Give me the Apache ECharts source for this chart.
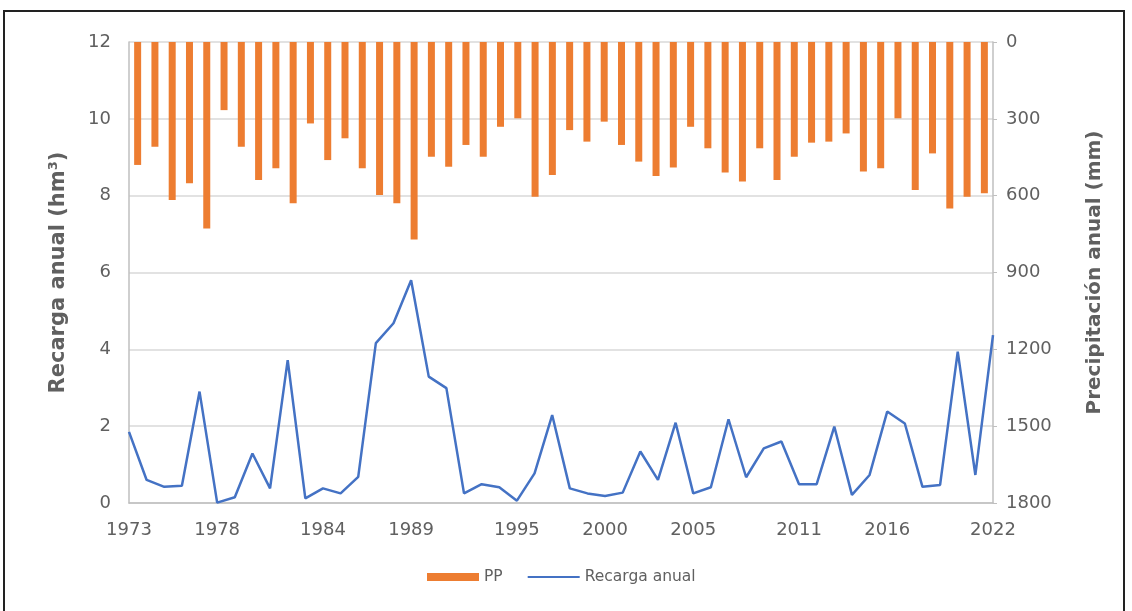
<!DOCTYPE html>
<html>
<head>
<meta charset="utf-8">
<script src="https://cdn.jsdelivr.net/npm/echarts@6/dist/echarts.min.js"></script>
<style>
html,body{margin:0;padding:0;background:#fff;}
#chart{position:absolute;left:0;top:0;width:1132px;height:611px;}
#frame{position:absolute;left:3px;top:10px;width:1122px;height:640px;border:2px solid #222;box-sizing:border-box;pointer-events:none;}
</style>
</head>
<body>
<div id="chart"></div>
<div id="frame"></div>
<script>
const years = [];
for (let y = 1973; y <= 2022; y++) years.push(String(y));
const shownYears = ['1973','1978','1984','1989','1995','2000','2005','2011','2016','2022'];
const ppValues = [480,409,617,552,728,266,409,539,493,630,318,461,376,493,597,630,771,448,487,402,448,331,298,604,519,344,389,311,402,467,523,490,331,415,510,545,415,539,448,393,389,357,506,493,298,578,435,650,604,591];
const recargaValues = [1.85,0.60,0.42,0.45,2.90,0.01,0.15,1.29,0.38,3.72,0.12,0.38,0.25,0.68,4.16,4.68,5.80,3.29,2.99,0.25,0.49,0.41,0.06,0.77,2.29,0.38,0.25,0.18,0.27,1.34,0.60,2.09,0.25,0.41,2.18,0.67,1.42,1.60,0.49,0.49,1.99,0.21,0.73,2.38,2.07,0.42,0.47,3.94,0.73,4.37];
const leftTicks = {min:0, max:12, interval:2};
const rightTicks = {min:0, max:1800, interval:300};

const txt = '#606060';
const font = 'DejaVu Sans, Verdana, sans-serif';
const chart = echarts.init(document.getElementById('chart'));
chart.setOption({
  animation:false,
  textStyle:{fontFamily:font},
  grid:{left:129, right:139, top:42, bottom:108},
  legend:{
    bottom:21, left:422, itemWidth:52, itemHeight:8, itemGap:24,
    textStyle:{color:txt, fontSize:15.5, fontFamily:font},
    data:[{name:'PP', icon:'rect'}, {name:'Recarga anual', itemStyle:{opacity:0}}]
  },
  xAxis:[
    {type:'category', data:years, boundaryGap:false, position:'bottom',
     axisLine:{show:true, lineStyle:{color:'#bfbfbf', width:1.5}},
     axisTick:{show:false},
     axisLabel:{color:txt, fontSize:18, margin:18, fontFamily:font,
       interval:(i, v) => shownYears.indexOf(v) >= 0}},
    {type:'category', data:years, boundaryGap:true, position:'bottom',
     axisLine:{show:false}, axisTick:{show:false}, axisLabel:{show:false}, splitLine:{show:false}}
  ],
  yAxis:[
    {type:'value', min:leftTicks.min, max:leftTicks.max, interval:leftTicks.interval, position:'left',
     name:'Recarga anual (hm³)', nameLocation:'middle', nameGap:60, nameRotate:90,
     nameTextStyle:{color:txt, fontSize:21, fontWeight:'bold', fontFamily:font},
     axisLine:{show:true, lineStyle:{color:'#bfbfbf', width:1.5}},
     axisTick:{show:false},
     axisLabel:{color:txt, fontSize:18, margin:18, fontFamily:font},
     splitLine:{show:true, lineStyle:{color:'#d9d9d9', width:1.5}}},
    {type:'value', min:rightTicks.min, max:rightTicks.max, interval:rightTicks.interval, position:'right', inverse:true,
     name:'Precipitación anual (mm)', nameLocation:'middle', nameGap:92, nameRotate:90,
     nameTextStyle:{color:txt, fontSize:20, fontWeight:'bold', fontFamily:font},
     axisLine:{show:true, lineStyle:{color:'#bfbfbf', width:1.5}},
     axisTick:{show:true, length:4, lineStyle:{color:'#bfbfbf'}},
     axisLabel:{color:txt, fontSize:18, margin:13, fontFamily:font, formatter:(v) => String(v)},
     splitLine:{show:false}}
  ],
  series:[
    {name:'PP', type:'bar', xAxisIndex:1, yAxisIndex:1, data:ppValues, barWidth:7,
     itemStyle:{color:'#ED7D31'}},
    {name:'Recarga anual', type:'line', xAxisIndex:0, yAxisIndex:0, data:recargaValues,
     symbol:'none', lineStyle:{color:'#4472C4', width:2.5}, itemStyle:{color:'#4472C4'}}
  ]
});
</script>
</body>
</html>
